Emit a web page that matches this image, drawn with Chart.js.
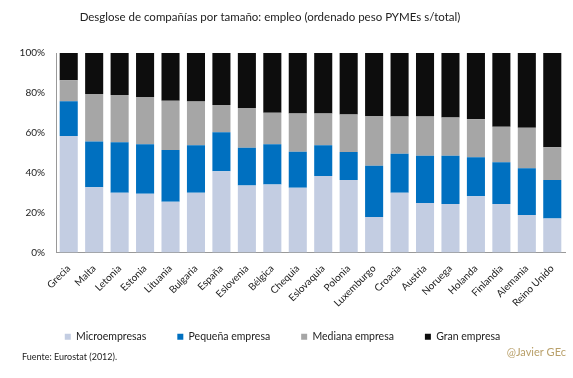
<!DOCTYPE html>
<html>
<head>
<meta charset="utf-8">
<script src="https://cdn.jsdelivr.net/npm/chart.js@4/dist/chart.umd.min.js"></script>
<style>
html,body{margin:0;padding:0;background:#fff;}
#wrap{width:573px;height:378px;}
</style>
</head>
<body>
<div id="wrap"><canvas id="c" width="573" height="378"></canvas></div>
<script>
const countries = ["Grecia","Malta","Letonia","Estonia","Lituania","Bulgaria","España","Eslovenia","Bélgica","Chequia","Eslovaquia","Polonia","Luxemburgo","Croacia","Austria","Noruega","Holanda","Finlandia","Alemania","Reino Unido"];
const micro   = [58.4,32.7,29.9,29.4,25.5,29.9,40.7,33.6,34.1,32.4,38.3,36.4,17.8,29.9,24.8,24.3,28.2,24.3,18.8,17.0];
const pequena = [17.4,22.9,25.4,24.9,25.9,23.9,19.6,18.9,20.2,18.1,15.5,14.0,25.7,19.6,23.7,24.2,19.5,21.0,23.4,19.4];
const mediana = [10.5,23.8,23.6,23.6,24.7,21.9,13.6,19.9,15.7,19.2,15.9,18.8,24.9,18.7,19.7,19.2,19.1,17.7,20.3,16.3];
const gran    = [13.7,20.6,21.1,22.1,23.9,24.3,26.1,27.6,30.0,30.3,30.3,30.8,31.6,31.8,31.8,32.3,33.2,37.0,37.5,47.3];
const seriesNames = ["Microempresas","Pequeña empresa","Mediana empresa","Gran empresa"];
const yTicks = [0,20,40,60,80,100];
const titleText = "Desglose de compañías por tamaño: empleo (ordenado peso PYMEs s/total)";
const sourceText = "Fuente: Eurostat (2012).";
const authorText = "@Javier GEc";

const colors = ["#C3CDE2","#0070C0","#A6A6A6","#0D0D0D"];
const values = [micro, pequena, mediana, gran];

Chart.defaults.font.family = "Lato, 'Open Sans', sans-serif";
Chart.defaults.color = "#333";

const notes = {
  id: "notes",
  afterDraw(chart) {
    const ctx = chart.ctx;
    ctx.save();
    ctx.textBaseline = "middle";
    ctx.font = "11.5px Lato, sans-serif";
    ctx.fillStyle = "#222";
    ctx.textAlign = "center";
    ctx.fillText(titleText, 270, 17);
    ctx.font = "9px Lato, sans-serif";
    ctx.fillStyle = "#222";
    ctx.textAlign = "left";
    ctx.fillText(sourceText, 22, 357);
    ctx.font = "11px Lato, sans-serif";
    ctx.fillStyle = "#B9A06A";
    ctx.textAlign = "right";
    ctx.fillText(authorText, 566, 352);
    ctx.restore();
  }
};

new Chart(document.getElementById("c"), {
  type: "bar",
  data: {
    labels: countries,
    datasets: values.map((v, i) => ({
      label: seriesNames[i],
      data: v,
      backgroundColor: colors[i],
      borderWidth: 0,
      barPercentage: 0.71,
      categoryPercentage: 1.0
    }))
  },
  options: {
    responsive: false,
    animation: false,
    devicePixelRatio: 1,
    layout: { padding: { left: 0, right: 8, top: 53, bottom: 26 } },
    plugins: {
      title: { display: false },
      legend: {
        position: "bottom",
        labels: {
          boxWidth: 6,
          boxHeight: 6,
          padding: 31,
          color: "#222",
          font: { size: 10.5 }
        }
      },
      tooltip: { enabled: false }
    },
    scales: {
      x: {
        stacked: true,
        grid: { display: false },
        border: { display: true, color: "#999" },
        ticks: { maxRotation: 45, minRotation: 45, autoSkip: false, color: "#222", font: { size: 10 }, padding: 2 },
        afterFit(scale) {
          scale.height = 48;
          scale._computeLabelArea = () => undefined;
        }
      },
      y: {
        stacked: true,
        min: 0,
        max: 100,
        grid: { display: false },
        border: { display: true, color: "#999" },
        afterBuildTicks(scale) { scale.ticks = yTicks.map(v => ({ value: v })); },
        ticks: { callback: v => v + "%", color: "#222", font: { size: 10 }, padding: 3 },
        afterFit(scale) { scale.width = 56; }
      }
    }
  },
  plugins: [notes]
});
</script>
</body>
</html>
